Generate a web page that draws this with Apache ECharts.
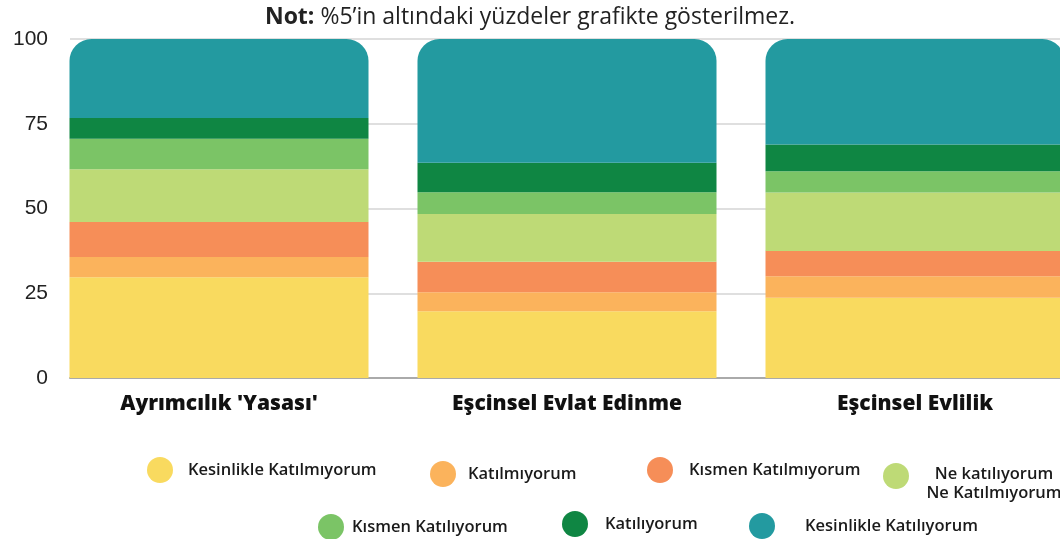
<!DOCTYPE html>
<html><head><meta charset="utf-8">
<script src="https://cdn.jsdelivr.net/npm/echarts@6/dist/echarts.min.js"></script>
<style>html,body{margin:0;padding:0;background:#fff}#c{width:1060px;height:539px}</style>
</head><body><div id="c"></div>
<script>
const categories = ["Ayrımcılık 'Yasası'", 'Eşcinsel Evlat Edinme', 'Eşcinsel Evlilik'];
const seriesNames = ['Kesinlikle Katılmıyorum', 'Katılmıyorum', 'Kısmen Katılmıyorum', 'Ne katılıyorum\nNe Katılmıyorum', 'Kısmen Katılıyorum', 'Katılıyorum', 'Kesinlikle Katılıyorum'];
const kesinlikleKatilmiyorum = [29.7, 19.7, 23.7];
const katilmiyorum = [6.0, 5.6, 6.3];
const kismenKatilmiyorum = [10.3, 9.0, 7.5];
const neKatiliyorumNeKatilmiyorum = [15.6, 14.1, 17.2];
const kismenKatiliyorum = [9.0, 6.4, 6.3];
const katiliyorum = [6.1, 8.7, 7.9];
const kesinlikleKatiliyorum = [23.3, 36.5, 31.1];
const yTicks = [0, 25, 50, 75, 100];

const values = [kesinlikleKatilmiyorum, katilmiyorum, kismenKatilmiyorum, neKatiliyorumNeKatilmiyorum, kismenKatiliyorum, katiliyorum, kesinlikleKatiliyorum];
const colors = ['#F9DA5F', '#FBB35C', '#F68E58', '#BEDA76', '#7BC466', '#0F8643', '#239AA0'];
const legendPos = [[147, 457], [430, 461], [647, 457], [883, 463], [318, 514], [562, 511], [749, 513]];
const legendPad = [[0,0,0,10],[0,0,0,7],[0,0,0,11],[16,0,0,12],[0,0,0,3],[0,0,0,12],[0,0,0,25]];

const chart = echarts.init(document.getElementById('c'));
const FONT = '"Open Sans", Lato, sans-serif';
const LFS = 16.5;
const legends = seriesNames.map((n, i) => {
  const lg = {
    data: [n], left: legendPos[i][0], top: legendPos[i][1], padding: 0,
    icon: 'circle', itemWidth: 26, itemHeight: 26,
    selectedMode: false,
    textStyle: { fontFamily: FONT, fontSize: LFS, fontWeight: 600, color: '#1a1a1a', padding: legendPad[i] }
  };
  if (i === 3) {
    lg.formatter = () => '{a|Ne katılıyorum}\n{a|Ne Katılmıyorum}';
    lg.textStyle.rich = { a: { width: 136, align: 'center', lineHeight: 19, fontFamily: FONT, fontSize: LFS, fontWeight: 600, color: '#1a1a1a' } };
  }
  return lg;
});

chart.setOption({
  animation: false,
  title: {
    text: '{b|Not:} %5’in altındaki yüzdeler grafikte gösterilmez.',
    left: 'center', top: 1,
    textStyle: {
      fontFamily: FONT, fontSize: 23, fontWeight: 'normal', color: '#222',
      rich: { b: { fontFamily: FONT, fontSize: 23, fontWeight: 'bold', color: '#222' } }
    }
  },
  legend: legends,
  grid: [
    { left: 70, right: 0, top: 39, bottom: 161, outerBoundsMode: 'none' },
    { left: 45, width: 1044, top: 39, bottom: 161, outerBoundsMode: 'none' }
  ],
  xAxis: [
    { gridIndex: 0, type: 'category', data: [''], axisLine: { lineStyle: { color: '#aaa', width: 2 } }, axisTick: { show: false }, axisLabel: { show: false } },
    { gridIndex: 1, type: 'category', data: categories, axisLine: { show: false }, axisTick: { show: false },
      axisLabel: { margin: 16, fontFamily: FONT, fontSize: 21, fontWeight: 800, color: '#111' } }
  ],
  yAxis: [
    { gridIndex: 0, type: 'value', min: 0, max: 100, interval: 25,
      axisLine: { show: false }, axisTick: { show: false },
      axisLabel: { margin: 22, fontFamily: 'Liberation Sans, Arial, sans-serif', fontSize: 21, color: '#222', formatter: v => yTicks.includes(v) ? String(v) : '' },
      splitLine: { lineStyle: { color: '#d4d4d4', width: 1.5 } } },
    { gridIndex: 1, type: 'value', min: 0, max: 100, show: false, splitLine: { show: false } }
  ],
  series: values.map((d, i) => ({
    name: seriesNames[i], type: 'bar', stack: 'all', xAxisIndex: 1, yAxisIndex: 1,
    data: d, barWidth: 299,
    itemStyle: { color: colors[i], borderRadius: i === values.length - 1 ? [22, 22, 0, 0] : 0 },
    emphasis: { disabled: true }
  }))
});
</script></body></html>
